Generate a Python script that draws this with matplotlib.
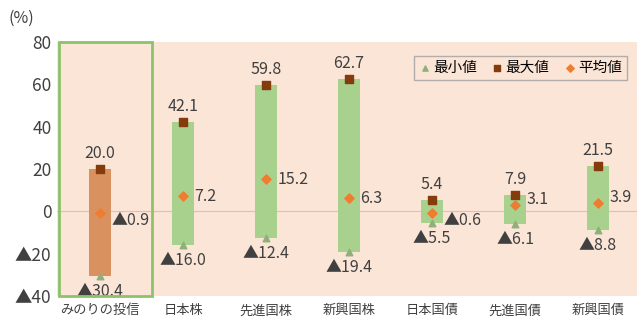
import matplotlib.pyplot as plt
import numpy as np

plt.rcParams['font.family'] = ['Noto Sans CJK JP', 'DejaVu Sans']

categories = ["みのりの投信", "日本株", "先進国株", "新興国株", "日本国債", "先進国債", "新興国債"]
min_vals = [-30.4, -16.0, -12.4, -19.4, -5.5, -6.1, -8.8]
max_vals = [20.0, 42.1, 59.8, 62.7, 5.4, 7.9, 21.5]
mean_vals = [-0.9, 7.2, 15.2, 6.3, -0.6, 3.1, 3.9]
yticks = [-40, -20, 0, 20, 40, 60, 80]

# small vertical nudges for mean labels (points)
mean_dy = [-5, 0, 0, 0, -6, 4, 4]

def fmt(v):
    return ("▲" if v < 0 else "") + f"{abs(v):.1f}"

peach = "#fbe5d6"
green = "#a9d18e"
orange = "#d9925f"
txt = "#404040"

fig = plt.figure(figsize=(6.37, 3.26), dpi=100)
ax = fig.add_axes([0.0895, 0.092, 0.9105, 0.779])
ax.set_facecolor(peach)

x = np.arange(len(categories))
colors = [orange] + [green] * (len(categories) - 1)
heights = np.array(max_vals) - np.array(min_vals)
ax.bar(x, heights, bottom=min_vals, width=0.26, color=colors, zorder=2)

ax.axhline(0, color="#e6bfa8", lw=0.8, zorder=1)

ax.scatter(x, min_vals, marker="^", s=22, color="#8fb07a", zorder=3, label="最小値")
ax.scatter(x, max_vals, marker="s", s=34, color="#843c0c", zorder=3, label="最大値")
ax.scatter(x, mean_vals, marker="D", s=22, color="#ed7d31", zorder=4, label="平均値")

for i in x:
    ax.annotate(fmt(max_vals[i]), (i, max_vals[i]), xytext=(0, 5), textcoords="offset points",
                ha="center", va="bottom", fontsize=11.5, color=txt)
    ax.annotate(fmt(min_vals[i]), (i, min_vals[i]), xytext=(0, -5), textcoords="offset points",
                ha="center", va="top", fontsize=11.5, color=txt)
    ax.annotate(fmt(mean_vals[i]), (i, mean_vals[i]), xytext=(8, mean_dy[i]), textcoords="offset points",
                ha="left", va="center", fontsize=11.5, color=txt)

# green frame around the first category
ax.add_patch(plt.Rectangle((-0.5, -40), 1.13, 120, fill=False, edgecolor="#8dc26b",
                           lw=2, zorder=5, clip_on=False))

ax.set_xlim(-0.52, 6.47)
ax.set_ylim(-40, 80)
ax.set_yticks(yticks)
ax.set_yticklabels([fmt(v).replace(".0", "") if v < 0 else str(v) for v in yticks],
                   fontsize=12.5, color=txt)
ax.set_xticks(x)
ax.set_xticklabels(categories, fontsize=9.5, color=txt)
ax.tick_params(length=0, pad=4)
ax.tick_params(axis="x", pad=6)
for s in ax.spines.values():
    s.set_visible(False)

fig.text(0.014, 0.945, "(%)", fontsize=11.5, color=txt, ha="left", va="center")

leg = ax.legend(loc="upper right", ncol=3, fontsize=10.5, frameon=True, fancybox=False,
                edgecolor="#a0a0a0", facecolor=peach, handletextpad=0.15, columnspacing=1.0,
                handlelength=0.8, borderpad=0.35, bbox_to_anchor=(0.995, 0.975), markerscale=0.8)
leg.get_frame().set_linewidth(1.0)

fig.savefig("out.png", dpi=100)
